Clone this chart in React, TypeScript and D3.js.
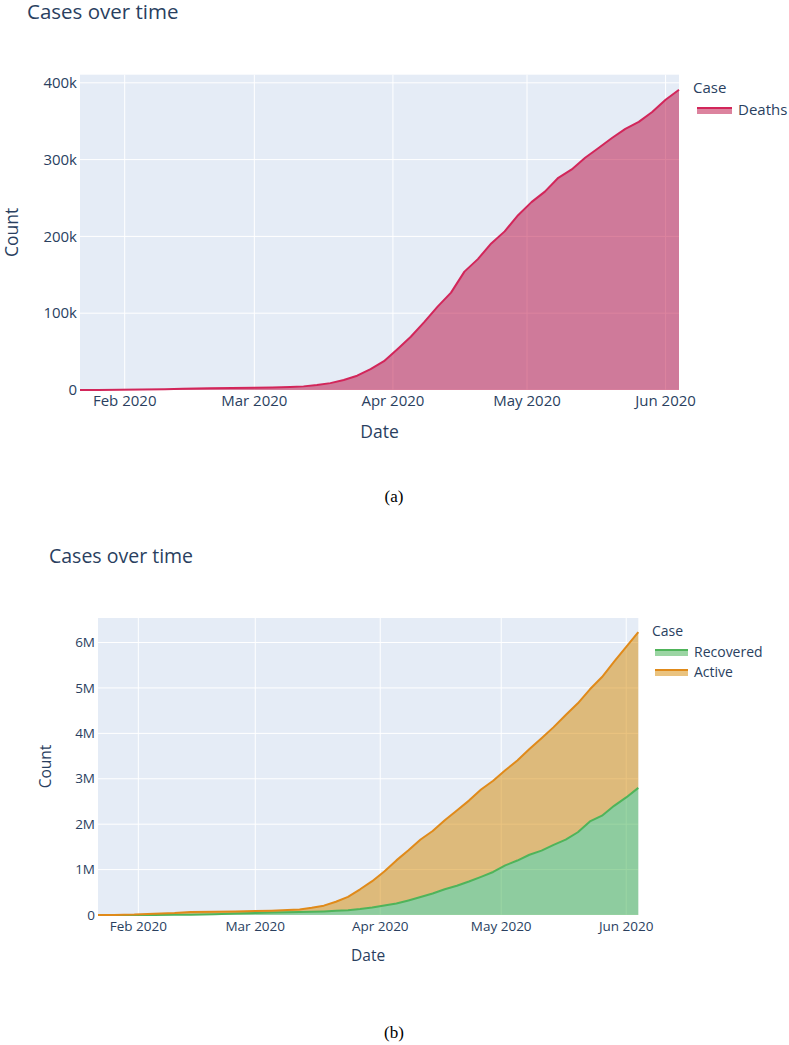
import { useRef, useEffect } from 'react';
import * as d3 from 'd3';

// cumulative global counts, sampled every few days (Jan 22 – Jun 4, 2020)
const dates = [
  '2020-01-22', '2020-01-26', '2020-01-31', '2020-02-05', '2020-02-10', '2020-02-14',
  '2020-02-20', '2020-02-25', '2020-03-01', '2020-03-05', '2020-03-09', '2020-03-12',
  '2020-03-15', '2020-03-18', '2020-03-21', '2020-03-24', '2020-03-27', '2020-03-30',
  '2020-04-02', '2020-04-05', '2020-04-08', '2020-04-11', '2020-04-14', '2020-04-17',
  '2020-04-20', '2020-04-23', '2020-04-26', '2020-04-29', '2020-05-02', '2020-05-05',
  '2020-05-08', '2020-05-11', '2020-05-14', '2020-05-17', '2020-05-20', '2020-05-23',
  '2020-05-26', '2020-05-29', '2020-06-01', '2020-06-04',
];
const deaths = [
  17, 56, 213, 565, 1013, 1520,
  2247, 2708, 2996, 3387, 3988, 4720,
  6440, 8951, 13012, 18625, 27198, 37582,
  53190, 69374, 88338, 108503, 126753, 154156,
  170423, 190858, 206544, 227638, 244664, 258302,
  276302, 287250, 302418, 315185, 328115, 340000,
  349095, 362000, 378000, 391000,
];
const recovered = [
  28, 52, 222, 1124, 3244, 8058,
  18177, 30384, 42716, 53797, 60694, 64404,
  70251, 78088, 91692, 107000, 130915, 164566,
  208000, 252000, 321000, 396000, 473000, 568000,
  644000, 739000, 841000, 948000, 1093000, 1199000,
  1327000, 1417000, 1545000, 1659000, 1822000, 2060000,
  2187000, 2404000, 2589000, 2800000,
];
const active = [
  510, 2010, 9490, 26590, 38500, 57310,
  55780, 47320, 42660, 40700, 48900, 59220,
  90760, 127880, 199820, 292340, 435180, 580220,
  751810, 950630, 1102660, 1267500, 1376250, 1517840,
  1658580, 1780140, 1922460, 2009360, 2094340, 2202700,
  2326700, 2475750, 2592580, 2745820, 2839890, 2910000,
  3053900, 3174000, 3316000, 3429000,
];
const monthTicks = ['2020-02-01', '2020-03-01', '2020-04-01', '2020-05-01', '2020-06-01'];
const deathTicks = [0, 100000, 200000, 300000, 400000];
const caseTicks = [0, 1000000, 2000000, 3000000, 4000000, 5000000, 6000000];

const parse = d3.timeParse('%Y-%m-%d');
const FONT = '"Open Sans", verdana, arial, sans-serif';
const INK = '#2a3f5f';
const BG = '#e5ecf6';

type Layer = { name: string; values: number[]; line: string; fill: string };

function drawPanel(svg: any, cfg: any) {
  const { plot, layers } = cfg;
  const xs = dates.map(d => parse(d) as Date);
  const x = d3.scaleTime().domain(d3.extent(xs) as [Date, Date]).range([plot.l, plot.r]);

  // stack layers bottom-up
  const tops: number[][] = [];
  layers.forEach((ly: Layer, i: number) => {
    tops.push(ly.values.map((v, j) => v + (i ? tops[i - 1][j] : 0)));
  });
  const maxV = d3.max(tops[tops.length - 1]) as number;
  const y = d3.scaleLinear().domain([0, maxV * 1.05]).range([plot.b, plot.t]);

  const g = svg.append('g');
  g.append('text').attr('x', cfg.title.x).attr('y', cfg.title.y)
    .attr('font-size', cfg.title.size).attr('fill', INK).text('Cases over time');

  g.append('rect').attr('x', plot.l).attr('y', plot.t)
    .attr('width', plot.r - plot.l).attr('height', plot.b - plot.t).attr('fill', BG);

  const months = monthTicks.map(d => parse(d) as Date);
  g.selectAll('.vg').data(months).join('line')
    .attr('x1', (d: Date) => x(d)).attr('x2', (d: Date) => x(d))
    .attr('y1', plot.t).attr('y2', plot.b).attr('stroke', '#fff').attr('stroke-width', 1);
  g.selectAll('.hg').data(cfg.yTicks).join('line')
    .attr('x1', plot.l).attr('x2', plot.r)
    .attr('y1', (d: number) => y(d)).attr('y2', (d: number) => y(d))
    .attr('stroke', '#fff').attr('stroke-width', 1);

  // areas then lines
  layers.forEach((ly: Layer, i: number) => {
    const area = d3.area<number>()
      .x((_, j) => x(xs[j]))
      .y0((_, j) => y(i ? tops[i - 1][j] : 0))
      .y1((_, j) => y(tops[i][j]));
    g.append('path').attr('d', area(ly.values)).attr('fill', ly.fill);
  });
  layers.forEach((ly: Layer, i: number) => {
    const line = d3.line<number>().x((_, j) => x(xs[j])).y((_, j) => y(tops[i][j]));
    g.append('path').attr('d', line(ly.values)).attr('fill', 'none')
      .attr('stroke', ly.line).attr('stroke-width', 2).attr('stroke-linejoin', 'round');
  });

  const fmt = d3.format('~s');
  g.selectAll('.yl').data(cfg.yTicks).join('text')
    .attr('x', plot.l - 3).attr('y', (d: number) => y(d)).attr('dy', '0.35em')
    .attr('text-anchor', 'end').attr('font-size', cfg.tick).attr('fill', INK)
    .text((d: number) => fmt(d));
  const mfmt = d3.timeFormat('%b %Y');
  g.selectAll('.xl').data(months).join('text')
    .attr('x', (d: Date) => x(d)).attr('y', cfg.xTickY)
    .attr('text-anchor', 'middle').attr('font-size', cfg.tick).attr('fill', INK)
    .text((d: Date) => mfmt(d));

  g.append('text').attr('x', (plot.l + plot.r) / 2).attr('y', cfg.xTitleY)
    .attr('text-anchor', 'middle').attr('font-size', cfg.axisTitle).attr('fill', INK).text('Date');
  g.append('text')
    .attr('transform', `translate(${cfg.yTitleX},${(plot.t + plot.b) / 2}) rotate(-90)`)
    .attr('text-anchor', 'middle').attr('dominant-baseline', 'central')
    .attr('font-size', cfg.axisTitle).attr('fill', INK).text('Count');

  // legend, listed in trace order
  const lg = cfg.legend;
  g.append('text').attr('x', lg.x).attr('y', lg.y)
    .attr('font-size', lg.size).attr('fill', INK).text('Case');
  layers.forEach((ly: Layer, i: number) => {
    const cy = lg.itemY + i * lg.gap;
    g.append('rect').attr('x', lg.sx).attr('y', cy - 3).attr('width', lg.sw).attr('height', 7)
      .attr('fill', ly.fill);
    g.append('line').attr('x1', lg.sx).attr('x2', lg.sx + lg.sw).attr('y1', cy - 2).attr('y2', cy - 2)
      .attr('stroke', ly.line).attr('stroke-width', 2);
    g.append('text').attr('x', lg.sx + lg.sw + 6).attr('y', cy).attr('dy', '0.35em')
      .attr('font-size', lg.size).attr('fill', INK).text(ly.name);
  });

  svg.append('text').attr('x', cfg.caption.x).attr('y', cfg.caption.y)
    .attr('text-anchor', 'middle').attr('font-family', '"Liberation Serif", "Times New Roman", serif')
    .attr('font-size', 17).attr('fill', '#000').text(cfg.caption.text);
}

export default function App() {
  const ref = useRef<SVGSVGElement>(null);

  useEffect(() => {
    const svg = d3.select(ref.current);
    svg.selectAll('*').remove();

    drawPanel(svg, {
      plot: { l: 80, r: 679, t: 74.7, b: 390 },
      layers: [{ name: 'Deaths', values: deaths, line: '#d2265a', fill: 'rgba(185,8,62,0.5)' }],
      yTicks: deathTicks,
      title: { x: 27, y: 19, size: 20.5 },
      tick: 15, xTickY: 406, axisTitle: 17.5, xTitleY: 438, yTitleX: 11,
      legend: { x: 693, y: 93, size: 15, itemY: 110, gap: 20, sx: 697, sw: 35 },
      caption: { x: 394, y: 502, text: '(a)' },
    });

    drawPanel(svg, {
      plot: { l: 98, r: 638.3, t: 618, b: 915 },
      layers: [
        { name: 'Recovered', values: recovered, line: '#4fb45a', fill: 'rgba(55,172,72,0.5)' },
        { name: 'Active', values: active, line: '#e08a1a', fill: 'rgba(213,136,0,0.5)' },
      ],
      yTicks: caseTicks,
      title: { x: 49, y: 563, size: 19.5 },
      tick: 13.5, xTickY: 931, axisTitle: 15.5, xTitleY: 961, yTitleX: 45,
      legend: { x: 652, y: 636, size: 14, itemY: 652, gap: 20, sx: 655, sw: 33 },
      caption: { x: 394, y: 1038, text: '(b)' },
    });
  }, []);

  return (
    <div style={{ position: 'absolute', left: 0, top: 0 }}>
      <svg ref={ref} width={789} height={1045} fontFamily={FONT} style={{ display: 'block', background: '#fff' }} />
    </div>
  );
}
